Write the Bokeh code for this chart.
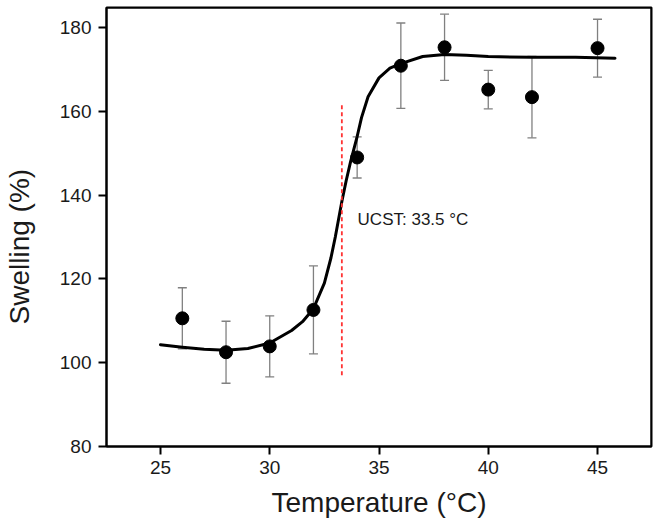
from bokeh.plotting import figure
from bokeh.layouts import row
from bokeh.models import ColumnDataSource, Whisker, TeeHead, Label, Title, Range1d, FixedTicker, Span
from bokeh.embed import file_html
from bokeh.resources import INLINE

# ---- data ----
temp = [26, 28, 30, 32, 34, 36, 38, 40, 42, 45]
swelling = [110.6, 102.5, 103.9, 112.6, 149.0, 170.9, 175.3, 165.2, 163.4, 175.1]
errors = [7.3, 7.4, 7.3, 10.5, 4.9, 10.2, 7.9, 4.6, 9.7, 6.9]

fit_x = [25, 26, 27, 28, 29, 30, 31, 31.5, 32, 32.5, 32.8, 33.0, 33.3, 33.5, 33.7,
         34.0, 34.2, 34.5, 35.0, 35.5, 36, 37, 38, 39, 40, 42, 44, 45.8]
fit_y = [104.3, 103.7, 103.2, 103.0, 103.4, 104.7, 107.7, 109.8, 112.9, 119.0, 125.0,
         130.0, 138.5, 143.5, 148.0, 154.0, 158.5, 163.5, 168.0, 170.3, 171.4, 173.1,
         173.6, 173.4, 173.1, 172.9, 172.9, 172.7]

ucst_x = [33.3, 33.3]
ucst_y = [97.0, 161.5]
ucst_label = "UCST: 33.5 °C"

x_ticks = [25, 30, 35, 40, 45]
y_ticks = [80, 100, 120, 140, 160, 180]

X_MIN, X_MAX = 22.53, 47.47
Y_MIN, Y_MAX = 80, 184.8

FONT = "Liberation Sans"
H = 532
TOP, BOTTOM = 7, 86

# narrow panel holding the y-axis title
yl = figure(width=36, height=H, output_backend="svg", toolbar_location=None,
            x_axis_type=None, y_axis_type=None,
            min_border_left=34, min_border_right=0, min_border_top=TOP, min_border_bottom=BOTTOM)
yl.outline_line_color = None
yl.xgrid.visible = False
yl.ygrid.visible = False
yl.title.visible = False
yl.add_layout(Title(text="Swelling (%)", align="left", offset=122, vertical_align="bottom",
                    text_font=FONT, text_font_size="28px", text_font_style="normal",
                    text_color="#1a1a1a", standoff=0), "left")

p = figure(width=624, height=H, output_backend="svg", toolbar_location=None,
           x_range=Range1d(X_MIN, X_MAX), y_range=Range1d(Y_MIN, Y_MAX),
           min_border_left=70, min_border_right=9, min_border_top=TOP, min_border_bottom=BOTTOM)

p.xgrid.visible = False
p.ygrid.visible = False
p.outline_line_color = "black"
p.outline_line_width = 2

for ax in (p.xaxis[0], p.yaxis[0]):
    ax.axis_line_width = 2
    ax.axis_line_color = "black"
    ax.major_tick_line_width = 2
    ax.major_tick_line_color = "black"
    ax.major_tick_out = 8
    ax.major_tick_in = 0
    ax.minor_tick_line_color = None
    ax.major_label_text_font = FONT
    ax.major_label_text_font_size = "19px"
    ax.major_label_text_color = "#1a1a1a"

p.xaxis.ticker = FixedTicker(ticks=x_ticks)
p.yaxis.ticker = FixedTicker(ticks=y_ticks)
p.xaxis.major_label_standoff = 6
p.yaxis.major_label_standoff = 7

p.xaxis.axis_label = "Temperature (°C)"
p.xaxis.axis_label_text_font = FONT
p.xaxis.axis_label_text_font_size = "28px"
p.xaxis.axis_label_text_font_style = "normal"
p.xaxis.axis_label_text_color = "#1a1a1a"
p.xaxis.axis_label_standoff = 10

# frame top and right edges
p.add_layout(Span(location=Y_MAX, dimension="width", line_color="black", line_width=2))
p.add_layout(Span(location=X_MAX, dimension="height", line_color="black", line_width=2))

# error bars
src = ColumnDataSource(data=dict(
    x=temp, y=swelling,
    upper=[s + e for s, e in zip(swelling, errors)],
    lower=[s - e for s, e in zip(swelling, errors)],
))
wh = Whisker(base="x", upper="upper", lower="lower", source=src,
             line_color="#808080", line_width=1.3,
             upper_head=TeeHead(size=9, line_color="#808080", line_width=1.3),
             lower_head=TeeHead(size=9, line_color="#808080", line_width=1.3))
p.add_layout(wh)

# fit curve
p.line(fit_x, fit_y, line_color="black", line_width=3, line_join="round", line_cap="round")

# UCST line
p.line(ucst_x, ucst_y, line_color="#ff3333", line_width=1.8, line_dash="4 3")

# data points
p.scatter("x", "y", source=src, size=13, fill_color="black", line_color="black")

p.add_layout(Label(x=34.02, y=134.2, text=ucst_label, text_font=FONT,
                   text_font_size="17px", text_color="#1a1a1a",
                   text_baseline="alphabetic", text_align="left"))

layout = row(yl, p, spacing=0)
open("out.html", "w").write(file_html(layout, INLINE))
